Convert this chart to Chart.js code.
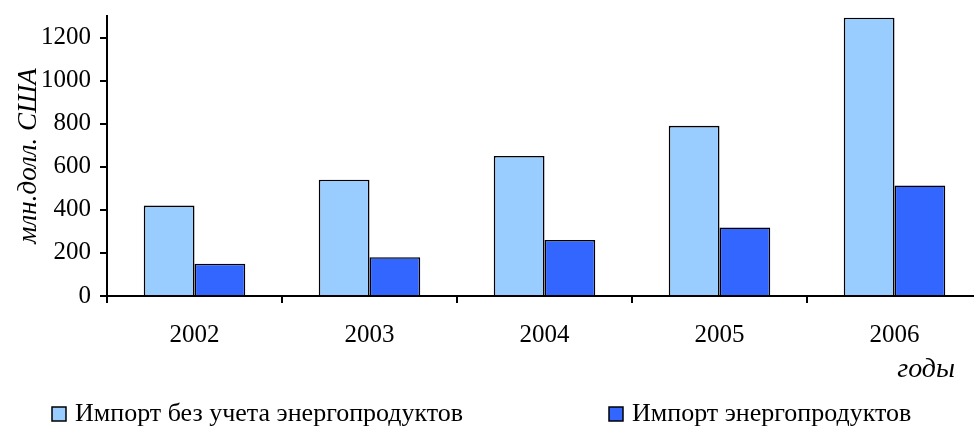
<!DOCTYPE html>
<html>
<head>
<meta charset="utf-8">
<script src="https://cdn.jsdelivr.net/npm/chart.js@4"></script>
<style>
html,body{margin:0;padding:0;background:#fff;overflow:hidden;}
#wrap{position:absolute;left:0;top:0;width:990px;height:427px;}
</style>
</head>
<body>
<div id="wrap"><canvas id="c" width="990" height="427"></canvas></div>
<script>
const categories = ['2002', '2003', '2004', '2005', '2006'];
const importNoEnergy = [420, 540, 650, 790, 1292];
const importEnergy = [150, 180, 260, 318, 513];
const yTickValues = [0, 200, 400, 600, 800, 1000, 1200];
const seriesNames = ['Импорт без учета энергопродуктов', 'Импорт энергопродуктов'];
const yTitle = 'млн.долл. США';
const xTitle = 'годы';
const colors = ['#99CCFF', '#3366FF'];
const FONT = '"Liberation Serif", "Times New Roman", serif';

const extras = {
  id: 'extras',
  afterDraw(chart) {
    const ctx = chart.ctx;
    ctx.save();
    ctx.fillStyle = '#000';
    ctx.font = 'italic 28px ' + FONT;
    ctx.textAlign = 'right';
    ctx.textBaseline = 'alphabetic';
    ctx.fillText(xTitle, 955, 377);
    const items = [{bx: 52, tx: 75}, {bx: 609, tx: 632}];
    ctx.font = '26px ' + FONT;
    ctx.textAlign = 'left';
    items.forEach((it, i) => {
      ctx.fillStyle = colors[i];
      ctx.fillRect(it.bx, 407, 14, 14);
      ctx.strokeStyle = '#000';
      ctx.lineWidth = 1.5;
      ctx.strokeRect(it.bx, 407, 14, 14);
      ctx.fillStyle = '#000';
      ctx.fillText(seriesNames[i], it.tx, 421);
    });
    ctx.restore();
  }
};

new Chart(document.getElementById('c'), {
  type: 'bar',
  data: {
    labels: categories,
    datasets: [
      {label: seriesNames[0], data: importNoEnergy, backgroundColor: colors[0], borderColor: '#000', borderWidth: 1.6},
      {label: seriesNames[1], data: importEnergy, backgroundColor: colors[1], borderColor: '#000', borderWidth: 1.6}
    ]
  },
  options: {
    responsive: false,
    animation: false,
    layout: {padding: {top: 16, right: 8, left: 0, bottom: 0}},
    plugins: {legend: {display: false}, tooltip: {enabled: false}},
    datasets: {bar: {categoryPercentage: 0.58, barPercentage: 1.0}},
    scales: {
      x: {
        grid: {display: true, drawOnChartArea: false, tickLength: 7, color: '#000', lineWidth: 2, offset: true},
        border: {display: true, color: '#000', width: 2},
        ticks: {color: '#000', font: {family: FONT, size: 25}, padding: 17, maxRotation: 0},
        afterFit(scale) { scale.height = 131; scale.paddingLeft = 0; scale.paddingRight = 0; }
      },
      y: {
        min: 0, max: 1300,
        grid: {display: true, drawOnChartArea: false, tickLength: 7, color: '#000', lineWidth: 2},
        border: {display: true, color: '#000', width: 2},
        ticks: {color: '#000', font: {family: FONT, size: 25}, padding: 9, autoSkip: false,
                callback: (v) => String(v)},
        afterBuildTicks(scale) { scale.ticks = yTickValues.map(v => ({value: v})); },
        title: {display: true, text: yTitle, color: '#000', font: {family: FONT, size: 27, style: 'italic'}, padding: {top: 13, bottom: 0}},
        afterFit(scale) { scale.width = 107; scale.paddingTop = 0; scale.paddingBottom = 0; }
      }
    }
  },
  plugins: [extras]
});
</script>
</body>
</html>
